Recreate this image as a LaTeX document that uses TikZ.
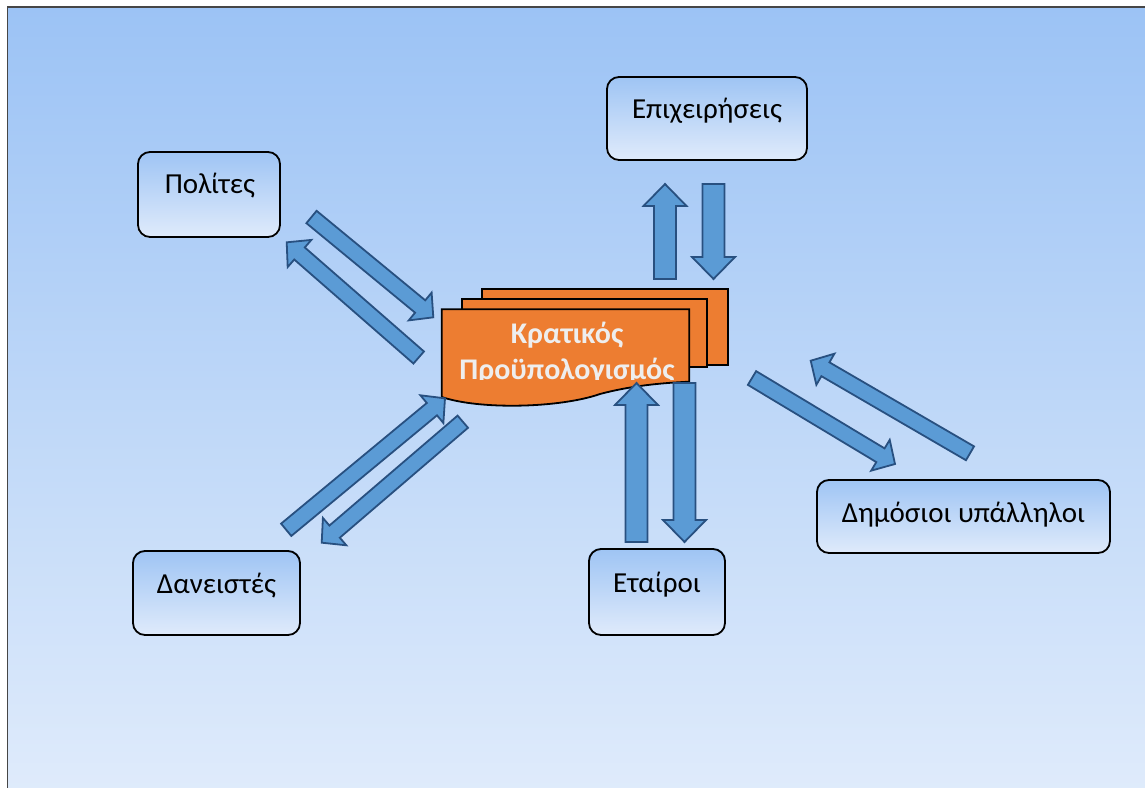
\documentclass[tikz,border=0pt]{standalone}
\usepackage{fontspec}
\setmainfont{Carlito}
\usetikzlibrary{calc}

\definecolor{bgtop}{RGB}{156,195,245}
\definecolor{bgbot}{RGB}{223,235,251}
\definecolor{boxtop}{RGB}{158,196,244}
\definecolor{boxbot}{RGB}{224,235,251}
\definecolor{docfill}{RGB}{237,125,49}
\definecolor{arrfill}{RGB}{91,155,213}
\definecolor{arrline}{RGB}{40,80,128}
\definecolor{doctext}{RGB}{238,238,238}
\definecolor{frameline}{RGB}{70,70,70}

\tikzset{
  party/.style={draw=black, line width=1.8pt, rounded corners=12pt, inner sep=0pt},
  partyfill/.style={top color=boxtop, bottom color=boxbot, rounded corners=12pt},
  partytext/.style={font=\fontsize{29}{35}\selectfont, anchor=base, inner sep=0pt},
  page/.style={draw=black, line width=1.8pt, fill=docfill, line join=miter},
  budgettext/.style={font=\fontsize{30}{36}\selectfont\bfseries, text=doctext,
    anchor=base, inner sep=0pt},
  blockarr/.style={draw=arrline, line width=1.8pt, fill=arrfill, line join=miter},
}

% block arrow: tail, tip, shaft width, head width, head length
\newcommand\blockarrow[5]{%
  \path[blockarr] let \p1=(#1), \p2=(#2),
      \n1={atan2((\y2-\y1)/1pt,(\x2-\x1)/1pt)},
      \n2={veclen(\x2-\x1,\y2-\y1)} in
    [shift={(\p1)}, rotate=\n1]
    (0pt,-#3/2) -- (\n2-#5,-#3/2) -- (\n2-#5,-#4/2) -- (\n2,0pt)
    -- (\n2-#5,#4/2) -- (\n2-#5,#3/2) -- (0pt,#3/2) -- cycle;}

% shaded rounded box with its outline node on top
\newcommand\partybox[4]{% name, centre, width, height
  \node[party, minimum width=#3, minimum height=#4] (#1) at #2 {};
  \begin{pgfonlayer}{boxfill}
    \path[partyfill] (#1.south west) rectangle (#1.north east);
  \end{pgfonlayer}}

\pgfdeclarelayer{boxfill}
\pgfsetlayers{boxfill,main}

\begin{document}
\begin{tikzpicture}[x=1pt,y=-1pt]
\useasboundingbox (0,0) rectangle (1145,787);

% slide background
\begin{pgfonlayer}{boxfill}
\fill[top color=bgtop, bottom color=bgbot] (7.5,7) rectangle (1150,792);
\draw[frameline, line width=1.5pt] (7.5,792) -- (7.5,7) -- (1150,7);
\end{pgfonlayer}

% parties
\partybox{pol}{(209,194.5)}{142pt}{85pt}
\node[partytext] (pol-t) at (210,193) {Πολίτες};
\partybox{epi}{(707,118.5)}{200pt}{83pt}
\node[partytext] (epi-t) at (707,118.5) {Επιχειρήσεις};
\partybox{dim}{(963.5,516.5)}{293pt}{73pt}
\node[partytext] (dim-t) at (963.5,522.5) {Δημόσιοι υπάλληλοι};
\partybox{dan}{(216.5,593)}{167pt}{84pt}
\node[partytext] (dan-t) at (216.5,593) {Δανειστές};
\partybox{eta}{(657,592)}{136pt}{86pt}
\node[partytext] (eta-t) at (657,592) {Εταίροι};

% state budget: stacked documents
\draw[page] (481.7,289.3) rectangle (727.7,365);
\draw[page] (462.3,299.3) rectangle (707.3,367.3);
\draw[page] (441.7,309.3) -- (689.3,309.3) -- (689.3,381.7)
  .. controls (660,383) and (630,386) .. (600,394)
  .. controls (560,408) and (480,410) .. (441.7,397) -- cycle;
\begin{scope}
  \clip (441.7,309.3) rectangle (689.3,379.5);
  \node[budgettext] (budget1) at (567,343) {Κρατικός};
  \node[budgettext] (budget2) at (567,379.5) {Προϋπολογισμός};
\end{scope}

% arrow ends
\coordinate (pol-in-a)  at (311.5,217);   \coordinate (pol-in-b)  at (433.3,317.3);
\coordinate (pol-out-a) at (418.7,357.5); \coordinate (pol-out-b) at (286.7,242.3);
\coordinate (dan-in-a)  at (286.2,529.8); \coordinate (dan-in-b)  at (445,398.3);
\coordinate (dan-out-a) at (462.8,421.7); \coordinate (dan-out-b) at (321.7,542.7);
\coordinate (dim-out-a) at (752,378);     \coordinate (dim-out-b) at (895,464);
\coordinate (dim-in-a)  at (970,453.3);   \coordinate (dim-in-b)  at (810.7,360.7);
\coordinate (epi-out-a) at (665,279);     \coordinate (epi-out-b) at (665,184);
\coordinate (epi-in-a)  at (713.5,184);   \coordinate (epi-in-b)  at (713.5,279);
\coordinate (eta-in-a)  at (636.5,542);   \coordinate (eta-in-b)  at (636.5,383);
\coordinate (eta-out-a) at (684.5,383);   \coordinate (eta-out-b) at (684.5,542);

% flows
\blockarrow{pol-in-a}{pol-in-b}{16pt}{36pt}{17pt}
\blockarrow{pol-out-a}{pol-out-b}{16pt}{36pt}{17pt}
\blockarrow{dan-in-a}{dan-in-b}{16pt}{36pt}{17pt}
\blockarrow{dan-out-a}{dan-out-b}{16pt}{36pt}{17pt}
\blockarrow{dim-out-a}{dim-out-b}{16pt}{36pt}{17pt}
\blockarrow{dim-in-a}{dim-in-b}{16pt}{36pt}{17pt}
\blockarrow{epi-out-a}{epi-out-b}{22pt}{43pt}{22pt}
\blockarrow{epi-in-a}{epi-in-b}{22pt}{43pt}{22pt}
\blockarrow{eta-in-a}{eta-in-b}{22pt}{43pt}{22pt}
\blockarrow{eta-out-a}{eta-out-b}{22pt}{43pt}{22pt}
\end{tikzpicture}
\end{document}
